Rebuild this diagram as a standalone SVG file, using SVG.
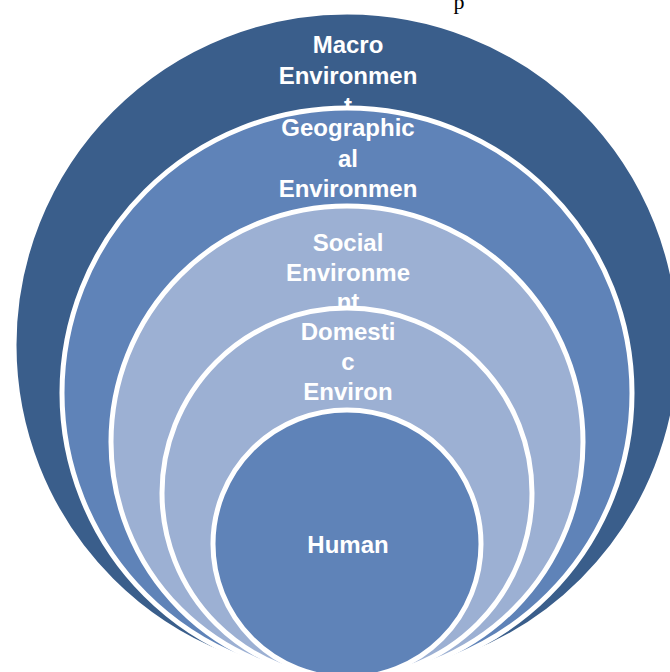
<svg xmlns="http://www.w3.org/2000/svg" width="670" height="672" viewBox="0 0 670 672">
<style>
.ring{stroke:#ffffff;stroke-width:5}
.dark{fill:#3A5E8B}
.mid{fill:#5F83B8}
.light{fill:#9CB0D3}
.lbl{font-family:"Liberation Sans",Arial,sans-serif;font-weight:bold;font-size:24px;fill:#ffffff;text-anchor:middle}
.doc{font-family:"Liberation Serif","Times New Roman",serif;font-size:22px;fill:#000000;text-anchor:middle}
</style>
<rect width="670" height="672" fill="#ffffff"/>
<text class="doc" x="459" y="9">p</text>
<g id="macro">
<circle class="ring dark" cx="347" cy="345" r="333"/>
<text class="lbl" x="348" y="53">Macro</text>
<text class="lbl" x="348" y="83.5">Environmen</text>
<text class="lbl" x="348" y="114">t</text>
</g>
<g id="geographical">
<circle class="ring mid" cx="347" cy="393" r="285"/>
<text class="lbl" x="348" y="136">Geographic</text>
<text class="lbl" x="348" y="166.5">al</text>
<text class="lbl" x="348" y="197">Environmen</text>
</g>
<g id="social">
<circle class="ring light" cx="347" cy="442" r="236"/>
<text class="lbl" x="348" y="251">Social</text>
<text class="lbl" x="348" y="280.5">Environme</text>
<text class="lbl" x="348" y="310">nt</text>
</g>
<g id="domestic">
<circle class="ring light" cx="347" cy="493" r="185"/>
<text class="lbl" x="348" y="340">Domesti</text>
<text class="lbl" x="348" y="370">c</text>
<text class="lbl" x="348" y="400">Environ</text>
</g>
<g id="human">
<circle class="ring mid" cx="347" cy="544" r="134"/>
<text class="lbl" x="348" y="553">Human</text>
</g>
<g id="connectors"></g>
</svg>
